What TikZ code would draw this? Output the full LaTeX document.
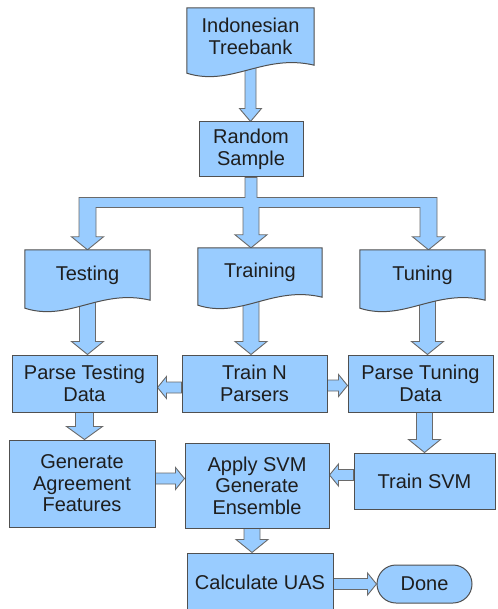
\documentclass[tikz,border=0pt]{standalone}
\usepackage{fontspec}
\setmainfont{Liberation Sans}
\usetikzlibrary{calc}

\definecolor{boxblue}{RGB}{153,204,255}
\definecolor{edgegray}{RGB}{80,80,80}
\definecolor{inkgray}{RGB}{30,30,30}

\pgfdeclarelayer{arrowlayer}
\pgfdeclarelayer{doclayer}
\pgfsetlayers{arrowlayer,doclayer,main}

% block arrow straight down: x taken from #2, tip on the y of #3
\newcommand{\vblk}[3][8]{%
  \draw[blk] let \p1=(#2), \p2=(#3) in
    (\x1-#1pt,\y1) -- (\x1-#1pt,\y2+13pt) -- (\x1-2*#1pt,\y2+13pt) -- (\x1,\y2)
    -- (\x1+2*#1pt,\y2+13pt) -- (\x1+#1pt,\y2+13pt) -- (\x1+#1pt,\y1) -- cycle;}
% block arrow sideways: y taken from #2, tip on the x of #3
\newcommand{\hblk}[3][5.5]{%
  \draw[blk] let \p1=(#2), \p2=(#3), \n1={ifthenelse(\x2>\x1,1,-1)} in
    (\x1,\y1+#1pt) -- (\x2-\n1*9pt,\y1+#1pt) -- (\x2-\n1*9pt,\y1+2*#1pt) -- (\x2,\y1)
    -- (\x2-\n1*9pt,\y1-2*#1pt) -- (\x2-\n1*9pt,\y1-#1pt) -- (\x1,\y1-#1pt) -- cycle;}
% outline of a document node, wavy bottom
\newcommand{\docpath}[1]{%
  \draw[box] (#1.north west) -- (#1.north east) -- (#1.south east)
    .. controls ($(#1.south west)!0.6!(#1.south east)+(0,12pt)$)
    and ($(#1.south west)!0.35!(#1.south east)+(0,-22pt)$) .. ($(#1.south west)+(0,-8pt)$)
    -- cycle;}

\begin{document}
\begin{tikzpicture}[
  x=1pt, y=-1pt,
  font=\fontsize{20}{21.5}\selectfont,
  every node/.style={inner sep=0pt, align=center, text=inkgray},
  box/.style={draw=edgegray, fill=boxblue, line width=1pt},
  proc/.style={box, rectangle},
  doc/.style={rectangle},
  endbox/.style={box, rounded corners=19pt},
  blk/.style={draw=edgegray!85, fill=boxblue, line width=0.9pt, line join=miter}
]
\clip (0,0) rectangle (497,609);

% sources
\node[doc, minimum width=127pt, minimum height=57pt] (treebank) at (250.5,36.5) {Indonesian\\Treebank};
\node[proc, minimum width=104pt, minimum height=55pt] (sample) at (251,149.5) {Random\\Sample};

% the three data sets
\node[doc, minimum width=125pt, minimum height=50pt] (testing) at (87.5,275) {Testing};
\node[doc, minimum width=124pt, minimum height=49pt] (training) at (260,272.5) {Training};
\node[doc, minimum width=125pt, minimum height=50pt] (tuning) at (422.5,275) {Tuning};

% processing
\node[proc, minimum width=145pt, minimum height=57pt] (parsetest) at (84.5,383.5) {Parse Testing\\Data};
\node[proc, minimum width=145pt, minimum height=57pt] (trainN) at (254.5,383.5) {Train N\\Parsers};
\node[proc, minimum width=145pt, minimum height=57pt] (parsetune) at (420.5,383.5) {Parse Tuning\\Data};
\node[proc, minimum width=146pt, minimum height=87pt] (genagree) at (82,483.5) {Generate\\Agreement\\Features};
\node[proc, minimum width=144pt, minimum height=85pt] (apply) at (257,485.5) {Apply SVM\\Generate\\Ensemble};
\node[proc, minimum width=141pt, minimum height=56pt] (trainsvm) at (424.5,481) {Train SVM};
\node[proc, minimum width=146pt, minimum height=58pt] (calc) at (260,582) {Calculate UAS};
\node[endbox, minimum width=95pt, minimum height=38pt] (done) at (424.5,584) {Done};

\begin{pgfonlayer}{doclayer}
  \foreach \d in {treebank,testing,training,tuning} { \docpath{\d} }
\end{pgfonlayer}

\begin{pgfonlayer}{arrowlayer}
  \vblk[5.5]{treebank.south}{sample.north}
  % split into the three sets
  \draw[blk] let \p0=(sample.south), \p1=(testing.north), \p2=(training.north),
      \p3=([xshift=6pt]tuning.north) in
    (\x0-6pt,\y0) -- (\x0-6pt,\y0-20pt) -- (\x1-8.5pt,\y0-20pt) -- (\x1-8.5pt,\y1+13pt)
    -- (\x1-16pt,\y1+13pt) -- (\x1,\y1) -- (\x1+16pt,\y1+13pt) -- (\x1+8.5pt,\y1+13pt)
    -- (\x1+8.5pt,\y0-30pt) -- (\x0-8pt,\y0-30pt) -- (\x0-8pt,\y2+13pt) -- (\x0-16pt,\y2+13pt)
    -- (\x0,\y2) -- (\x0+16pt,\y2+13pt) -- (\x0+8pt,\y2+13pt) -- (\x0+8pt,\y0-30pt)
    -- (\x3-8.5pt,\y0-30pt) -- (\x3-8.5pt,\y3+13pt) -- (\x3-16pt,\y3+13pt) -- (\x3,\y3)
    -- (\x3+16pt,\y3+13pt) -- (\x3+8.5pt,\y3+13pt) -- (\x3+8.5pt,\y0-20pt)
    -- (\x0+6pt,\y0-20pt) -- (\x0+6pt,\y0) -- cycle;
  \vblk{testing.south}{parsetest.north}
  \vblk{training.south -| sample.south}{trainN.north}
  \vblk{[xshift=5pt]tuning.south}{parsetune.north}
  \vblk[9]{parsetest.south}{genagree.north}
  \vblk{parsetune.south -| trainsvm.north}{trainsvm.north}
  \vblk{[xshift=-5pt]apply.south}{calc.north}
  \hblk{[yshift=-4pt]trainN.west}{parsetest.east}
  \hblk{[yshift=-2pt]trainN.east}{parsetune.west}
  \hblk{[yshift=5pt]genagree.east}{apply.west}
  \hblk{[yshift=6pt]trainsvm.west}{apply.east}
  \hblk{calc.east |- done.west}{done.west}
\end{pgfonlayer}
\end{tikzpicture}
\end{document}
